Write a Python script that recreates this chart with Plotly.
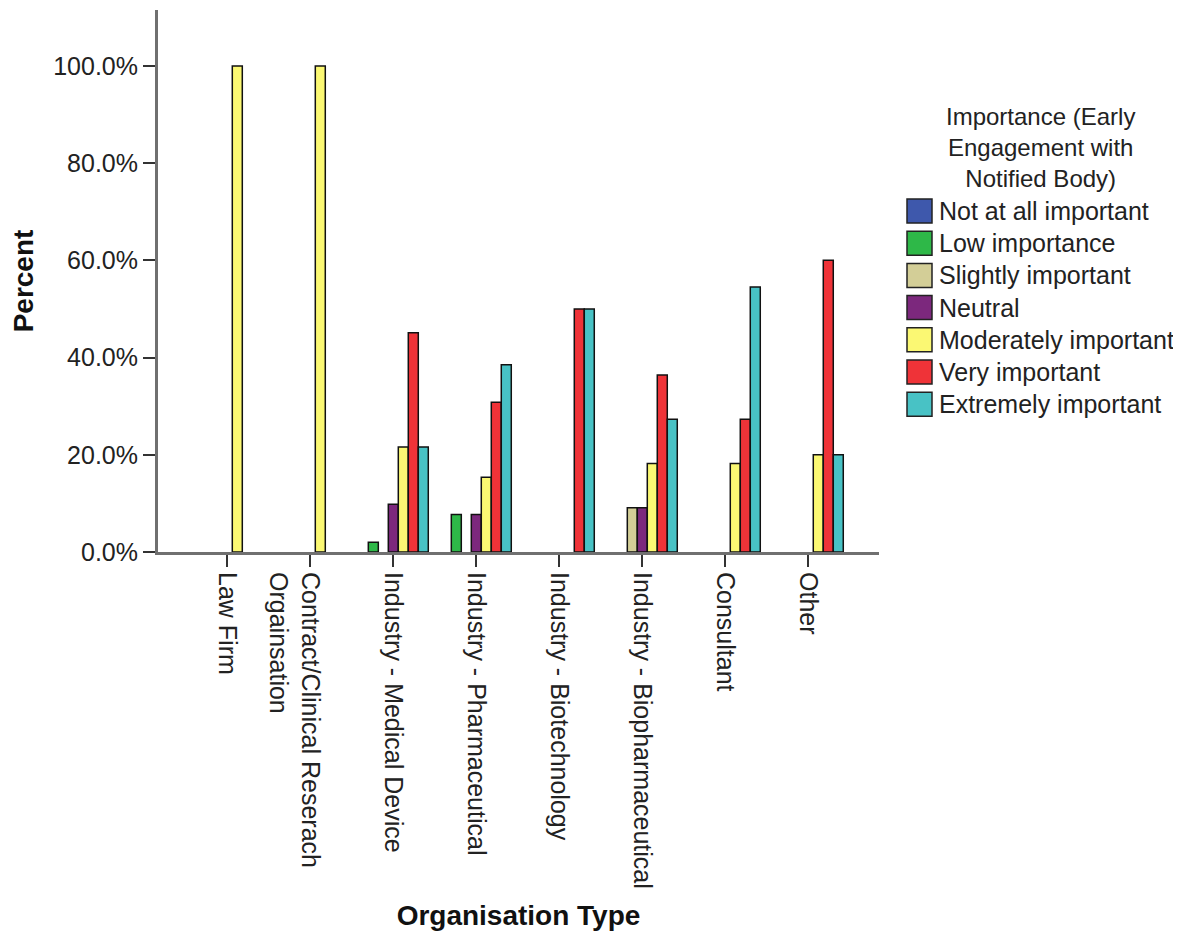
import plotly.graph_objects as go

# ---------------- data ----------------
categories = [
    "Law Firm",
    "\u00a0<br>Contract/Clinical Reserach<br>Orgainsation",
    "Industry - Medical Device",
    "Industry - Pharmaceutical",
    "Industry - Biotechnology",
    "Industry - Biopharmaceutical",
    "Consultant",
    "Other",
]
series_names = [
    "Not at all important",
    "Low importance",
    "Slightly important",
    "Neutral",
    "Moderately important",
    "Very important",
    "Extremely important",
]
not_at_all = [0, 0, 0, 0, 0, 0, 0, 0]
low_imp = [0, 0, 2.0, 7.7, 0, 0, 0, 0]
slightly = [0, 0, 0, 0, 0, 9.1, 0, 0]
neutral = [0, 0, 9.8, 7.7, 0, 9.1, 0, 0]
moderately = [100.0, 100.0, 21.6, 15.4, 0, 18.2, 18.2, 20.0]
very = [0, 0, 45.1, 30.8, 50.0, 36.4, 27.3, 60.0]
extremely = [0, 0, 21.6, 38.5, 50.0, 27.3, 54.5, 20.0]
y_ticks = [0, 20, 40, 60, 80, 100]
y_tick_labels = [f"{v:.1f}%" for v in y_ticks]

series_values = [not_at_all, low_imp, slightly, neutral, moderately, very, extremely]
colors = ["#3E58AC", "#2EB848", "#D3CE97", "#7C287D", "#FBF873", "#EF3338", "#48C2C5"]

FONT = "Liberation Sans, Arial, sans-serif"

fig = go.Figure()
for name, vals, col in zip(series_names, series_values, colors):
    fig.add_trace(go.Bar(
        x=categories, y=vals, name=name,
        marker=dict(color=col,
                    line=dict(color="#111111", width=[1.5 if v > 0 else 0 for v in vals])),
        showlegend=False,
    ))

# plot-area geometry (px, figure coordinates; page has an 8px body offset)
L, R, T, B = 150, 871, 2, 544
W, H = 1173, 928
pw, ph = R - L, B - T

fig.update_layout(
    width=W, height=H,
    margin=dict(l=L, r=W - R, t=T, b=H - B, autoexpand=False),
    paper_bgcolor="white", plot_bgcolor="white",
    barmode="group", bargap=0.157, bargroupgap=0.0,
    font=dict(family=FONT, color="#222222"),
)

fig.update_xaxes(
    type="category", range=[-0.835, 7.852],
    showline=True, linecolor="#707070", linewidth=3,
    ticks="outside", ticklen=12, tickwidth=1.5, tickcolor="#333333",
    tickangle=90, tickfont=dict(size=25, family=FONT, color="#222222"),
    showgrid=False, zeroline=False, automargin=False,
    title=dict(text="<b>Organisation Type</b>", font=dict(size=28, family=FONT, color="#111111"), standoff=18),
)
fig.update_yaxes(
    range=[0, 111.5], tickmode="array", tickvals=y_ticks, ticktext=y_tick_labels,
    showline=True, linecolor="#707070", linewidth=3,
    ticks="outside", ticklen=12, tickwidth=1.5, tickcolor="#333333",
    tickfont=dict(size=25, family=FONT, color="#222222"),
    showgrid=False, zeroline=False, automargin=False,
    title=dict(text="<b>Percent</b>", font=dict(size=28, family=FONT, color="#111111"), standoff=12),
)

# ---------------- manual legend ----------------
def px2paper(x, y):
    return (x - L) / pw, (B - y) / ph

xp, yp = px2paper(1032, 139)
fig.add_annotation(x=xp, y=yp, xref="paper", yref="paper",
                   text="Importance (Early<br>Engagement with<br>Notified Body)",
                   showarrow=False, xanchor="center", yanchor="middle", align="center",
                   font=dict(size=24, family=FONT, color="#222222"))

for i, (name, col) in enumerate(zip(series_names, colors)):
    cy = 203 + i * 32.2
    x0, y0 = px2paper(899, cy - 12)
    x1, y1 = px2paper(924, cy + 12)
    fig.add_shape(type="rect", xref="paper", yref="paper", x0=x0, x1=x1, y0=y1, y1=y0,
                  fillcolor=col, line=dict(color="#222222", width=1.5))
    xp, yp = px2paper(929, cy)
    fig.add_annotation(x=xp, y=yp, xref="paper", yref="paper", text=name,
                       showarrow=False, xanchor="left", yanchor="middle",
                       font=dict(size=25, family=FONT, color="#222222"))

fig.write_html("out.html")
